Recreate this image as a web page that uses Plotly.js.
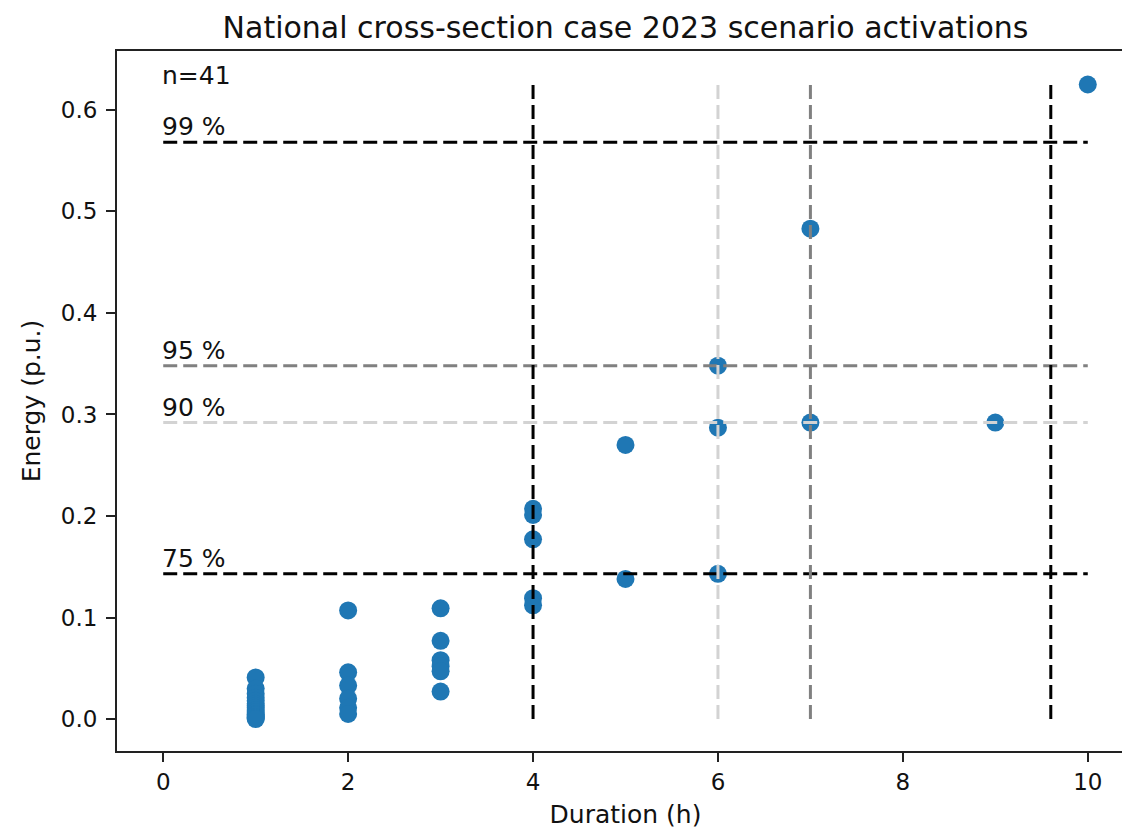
<!DOCTYPE html>
<html>
<head>
<meta charset="utf-8">
<script src="https://cdn.plot.ly/plotly-3.0.1.min.js"></script>
<style>
html, body { margin: 0; padding: 0; overflow: hidden; background: #fff; }
#chart { width: 1150px; height: 829px; }
</style>
</head>
<body>
<div id="chart"></div>
<script>
// Activation durations (h) and energies (p.u.), n = 41
const duration = [
  1, 1, 1, 1, 1, 1, 1, 1, 1, 1, 1, 1, 1, 1, 1,
  2, 2, 2, 2, 2, 2,
  3, 3, 3, 3, 3, 3,
  4, 4, 4, 4, 4,
  5, 5,
  6, 6, 6,
  7, 7,
  9,
  10
];
const energy = [
  0.041, 0.030, 0.025, 0.021, 0.018, 0.015, 0.013, 0.011, 0.009, 0.007, 0.005, 0.004, 0.002, 0.001, 0.000,
  0.107, 0.046, 0.033, 0.020, 0.011, 0.005,
  0.109, 0.077, 0.058, 0.052, 0.047, 0.027,
  0.207, 0.201, 0.177, 0.119, 0.112,
  0.270, 0.138,
  0.348, 0.287, 0.143,
  0.483, 0.292,
  0.292,
  0.625
];

// Percentile levels
const pctLabels = ["75 %", "90 %", "95 %", "99 %"];
const pctEnergy = [0.143, 0.292, 0.348, 0.568];
const pctDuration = [4, 6, 7, 9.6];
const pctColors = ["#000000", "#d3d3d3", "#808080", "#000000"];

const xTicks = [0, 2, 4, 6, 8, 10];
const yTicks = [0.0, 0.1, 0.2, 0.3, 0.4, 0.5, 0.6];

const FONT = "DejaVu Sans, sans-serif";
const maxDur = Math.max(...duration);
const maxEn = Math.max(...energy);

const traces = [{
  type: "scatter", mode: "markers",
  x: duration, y: energy,
  marker: { color: "#1f77b4", size: 18, line: { width: 0 } },
  hoverinfo: "x+y", showlegend: false
}];

pctEnergy.forEach((p, i) => {
  traces.push({
    type: "scatter", mode: "lines",
    x: [0, maxDur], y: [p, p],
    line: { color: pctColors[i], width: 3, dash: "14px,6px" },
    showlegend: false, hoverinfo: "skip"
  });
});
pctDuration.forEach((d, i) => {
  traces.push({
    type: "scatter", mode: "lines",
    x: [d, d], y: [0, maxEn],
    line: { color: pctColors[i], width: 3, dash: "14px,6px" },
    showlegend: false, hoverinfo: "skip"
  });
});

const annotations = pctLabels.map((t, i) => ({
  x: 0, y: pctEnergy[i], xref: "x", yref: "y",
  text: t, showarrow: false, xanchor: "left", yanchor: "bottom",
  xshift: -2, yshift: 0, borderpad: 0,
  font: { family: FONT, size: 25, color: "#111" }
}));
annotations.push({
  x: 0, y: maxEn, xref: "x", yref: "y",
  text: "n=" + duration.length, showarrow: false, xanchor: "left", yanchor: "bottom",
  xshift: -2, yshift: -6, borderpad: 0,
  font: { family: FONT, size: 25, color: "#111" }
});

const axisCommon = {
  showgrid: false, zeroline: false,
  showline: true, linecolor: "#222", linewidth: 2, mirror: true,
  ticks: "outside", ticklen: 9, tickwidth: 2, tickcolor: "#222",
  tickfont: { family: FONT, size: 23, color: "#111" }
};

const layout = {
  width: 1150, height: 829,
  margin: { l: 117, r: 16, t: 51, b: 78 },
  paper_bgcolor: "#fff", plot_bgcolor: "#fff",
  font: { family: FONT, color: "#111" },
  title: {
    text: "National cross-section case 2023 scenario activations",
    font: { family: FONT, size: 30, color: "#111" },
    x: 0.5, xref: "paper", xanchor: "center",
    y: 0.967, yref: "container", yanchor: "middle"
  },
  xaxis: Object.assign({}, axisCommon, {
    range: [-0.5, 10.5], tickvals: xTicks, ticktext: xTicks.map(String),
    ticklabelstandoff: 0,
    title: { text: "Duration (h)", font: { family: FONT, size: 25, color: "#111" }, standoff: 17 }
  }),
  yaxis: Object.assign({}, axisCommon, {
    range: [-0.0315, 0.658], tickvals: yTicks, ticktext: yTicks.map(v => v.toFixed(1)),
    ticklabelstandoff: 4,
    title: { text: "Energy (p.u.)", font: { family: FONT, size: 25, color: "#111" }, standoff: 13 }
  }),
  annotations: annotations
};

Plotly.newPlot("chart", traces, layout, { displayModeBar: false, staticPlot: true });
</script>
</body>
</html>
